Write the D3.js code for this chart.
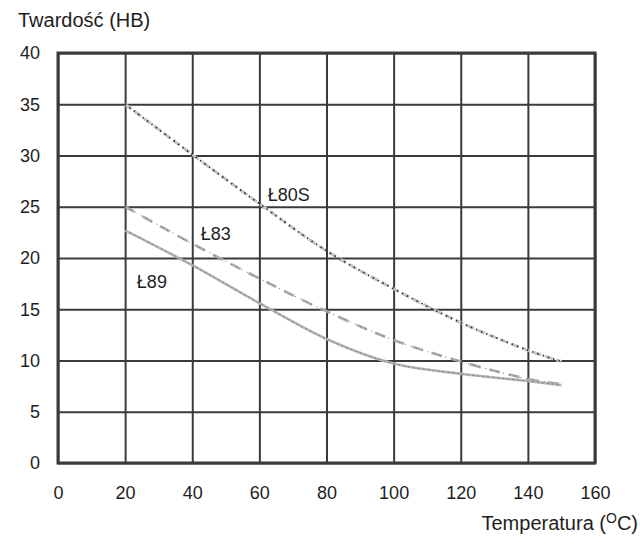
<!DOCTYPE html>
<html>
<head>
<meta charset="utf-8">
<script src="https://cdn.jsdelivr.net/npm/d3@7"></script>
<style>
  body { margin: 0; background: #fff; }
  svg { font-family: "Liberation Sans", Arial, sans-serif; }
</style>
</head>
<body>
<div id="chart"></div>
<script>
// temperatura (°C) i twardość (HB)
const temps = [20, 40, 60, 80, 100, 120, 140, 150];
const l80s = [35, 30.1, 25.3, 20.7, 17.0, 13.7, 11.0, 9.9];
const l83 = [25, 21.4, 18.0, 14.8, 12.0, 9.9, 8.2, 7.7];
const l89 = [22.7, 19.3, 15.6, 12.1, 9.7, 8.7, 8.0, 7.6];
const xTicks = [0, 20, 40, 60, 80, 100, 120, 140, 160];
const yTicks = [0, 5, 10, 15, 20, 25, 30, 35, 40];
const seriesNames = ['Ł80S', 'Ł83', 'Ł89'];
const labelAt = [[62.5, 25.6], [42.5, 21.8], [23.5, 17.1]];

const width = 640;
const height = 536;
const margin = { top: 53, left: 58, right: 45, bottom: 73 };
const font = '"Liberation Sans", Arial, sans-serif';

const x = d3.scaleLinear()
    .domain([0, 160])
    .range([margin.left, width - margin.right]);

const y = d3.scaleLinear()
    .domain([0, 40])
    .range([height - margin.bottom, margin.top]);

const svg = d3.select('#chart')
    .append('svg')
    .attr('width', width)
    .attr('height', height);

// siatka
svg.append('g')
    .attr('transform', `translate(0, ${margin.top})`)
    .call(d3.axisTop(x).tickValues(xTicks).tickSize(-(y(0) - y(40))).tickFormat(''))
    .call(g => g.select('.domain').remove())
    .selectAll('line')
    .attr('stroke', '#3a3a3a')
    .attr('stroke-width', 2);

svg.append('g')
    .attr('transform', `translate(${margin.left}, 0)`)
    .call(d3.axisLeft(y).tickValues(yTicks).tickSize(-(x(160) - x(0))).tickFormat(''))
    .call(g => g.select('.domain').remove())
    .selectAll('line')
    .attr('stroke', '#3a3a3a')
    .attr('stroke-width', 2);

// ramka
svg.append('rect')
    .attr('x', x(0))
    .attr('y', y(40))
    .attr('width', x(160) - x(0))
    .attr('height', y(0) - y(40))
    .attr('fill', 'none')
    .attr('stroke', '#3a3a3a')
    .attr('stroke-width', 3);

// opisy osi
svg.append('g')
    .attr('transform', `translate(0, ${y(0) + 20})`)
    .call(d3.axisBottom(x).tickValues(xTicks).tickSize(0).tickFormat(d3.format('d')))
    .call(g => g.select('.domain').remove())
    .selectAll('text')
    .attr('font-size', '18px')
    .attr('font-family', font)
    .attr('fill', '#1e1e1e');

svg.append('g')
    .attr('transform', `translate(${margin.left - 15}, 0)`)
    .call(d3.axisLeft(y).tickValues(yTicks).tickSize(0).tickFormat(d3.format('d')))
    .call(g => g.select('.domain').remove())
    .selectAll('text')
    .attr('font-size', '18px')
    .attr('font-family', font)
    .attr('fill', '#1e1e1e');

svg.append('text')
    .attr('x', 18)
    .attr('y', 27)
    .attr('font-size', '20px')
    .attr('fill', '#1e1e1e')
    .text('Twardość (HB)');

const xt = svg.append('text')
    .attr('x', 638)
    .attr('y', 530)
    .attr('text-anchor', 'end')
    .attr('font-size', '20px')
    .attr('fill', '#1e1e1e');
xt.append('tspan').text('Temperatura (');
xt.append('tspan').attr('font-size', '14px').attr('dy', -7).text('O');
xt.append('tspan').attr('dy', 7).text('C)');

// krzywe
const line = d3.line()
    .x((d, i) => x(temps[i]))
    .y(d => y(d))
    .curve(d3.curveCatmullRom);

// Ł80S - kropkowana
svg.append('path')
    .attr('d', line(l80s))
    .attr('fill', 'none')
    .attr('stroke', '#c4c4c4')
    .attr('stroke-width', 3)
    .attr('stroke-dasharray', '8,4');
svg.append('path')
    .attr('d', line(l80s))
    .attr('fill', 'none')
    .attr('stroke', '#333')
    .attr('stroke-width', 1.8)
    .attr('stroke-dasharray', '1.5,4');

// Ł83 - przerywana
svg.append('path')
    .attr('d', line(l83))
    .attr('fill', 'none')
    .attr('stroke', '#aaa')
    .attr('stroke-width', 2.6)
    .attr('stroke-dasharray', '11,9');
svg.append('path')
    .attr('d', line(l83))
    .attr('fill', 'none')
    .attr('stroke', '#666')
    .attr('stroke-width', 1)
    .attr('stroke-dasharray', '1,5');

// Ł89 - ciągła
svg.append('path')
    .attr('d', line(l89))
    .attr('fill', 'none')
    .attr('stroke', '#b4b4b4')
    .attr('stroke-width', 2.6);
svg.append('path')
    .attr('d', line(l89))
    .attr('fill', 'none')
    .attr('stroke', '#777')
    .attr('stroke-width', 0.8)
    .attr('stroke-dasharray', '2,3');

// etykiety serii
svg.append('g')
    .selectAll('text')
    .data(seriesNames)
    .join('text')
    .attr('x', (d, i) => x(labelAt[i][0]))
    .attr('y', (d, i) => y(labelAt[i][1]))
    .attr('font-size', '18px')
    .attr('fill', '#1e1e1e')
    .text(d => d);
</script>
</body>
</html>
